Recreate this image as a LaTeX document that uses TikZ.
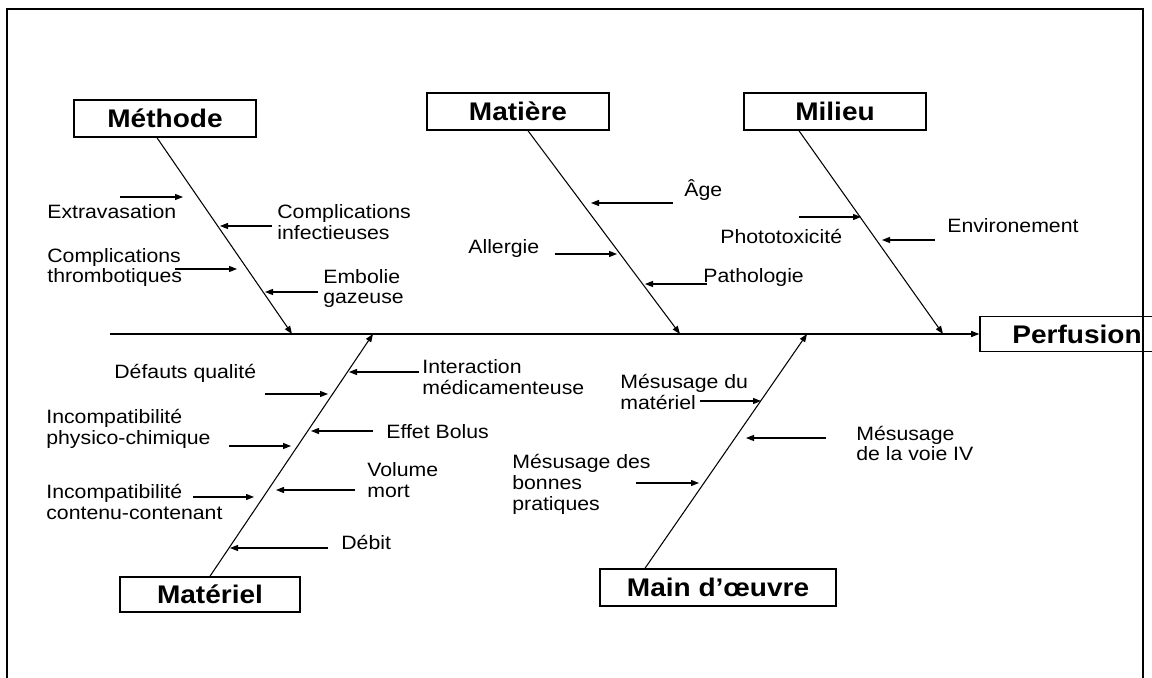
\documentclass[tikz,border=0pt]{standalone}
\usepackage{fontspec}
\setmainfont{Liberation Sans}[FakeStretch=1.1]
\usetikzlibrary{arrows.meta}

\tikzset{
  cause/.style={draw, line width=.9pt, inner sep=0pt, minimum height=7.4mm, font=\fontsize{14.5}{16}\selectfont\bfseries},
  lbl/.style={inner sep=0pt, align=left, anchor=west, font=\fontsize{11}{11.9}\selectfont},
  ar/.style={-{Triangle[length=1.6mm,width=1.2mm]}, line width=.6pt},
}

\begin{document}
\begin{tikzpicture}[x=0.02cm, y=-0.02cm]
\useasboundingbox (0,0) rectangle (1152,678);
\draw[line width=1.2pt] (7,9) rectangle (1143,700);

% main boxes
\node[cause, minimum width=3.64cm] (methode) at (165,118.5) {Méthode};
\node[cause, minimum width=3.64cm] (matiere) at (518,111.5) {Matière};
\node[cause, minimum width=3.64cm] (milieu) at (835,111.5) {Milieu};
\node[cause, minimum width=3.6cm, minimum height=7mm] (materiel) at (210,594.5) {Matériel};
\node[cause, minimum width=4.72cm] (mainoe) at (718,587.5) {Main d’œuvre};
\node[cause, minimum width=3.88cm, minimum height=7mm] (perf) at (1077,334) {Perfusion};

% spine
\coordinate (tail) at (110,334);
\draw[ar] (tail) -- (tail -| perf.west);

% bones
\coordinate (jmet) at (292,334);
\coordinate (jmat) at (680,334);
\coordinate (jmil) at (943,334);
\coordinate (jmatl) at (373,334);
\coordinate (jmo) at (807,334);
\draw[ar] ([xshift=-0.16cm]methode.south) -- (jmet);
\draw[ar] ([xshift=0.2cm]matiere.south) -- (jmat);
\draw[ar] ([xshift=-0.72cm]milieu.south) -- (jmil);
\draw[ar] (materiel.north) -- (jmatl);
\draw[ar] ([xshift=-1.46cm]mainoe.north) -- (jmo);

% labels
\node[lbl] (extra) at (47,212) {Extravasation};
\node[lbl] (infec) at (277,222.5) {Complications\\infectieuses};
\node[lbl] (throm) at (47,267.5) {Complications\\thrombotiques};
\node[lbl] (embol) at (323,288.5) {Embolie\\gazeuse};

\node[lbl] (age) at (684,190) {Âge};
\node[lbl] (aller) at (468,249) {Allergie};
\node[lbl] (patho) at (703,278) {Pathologie};

\node[lbl] (photo) at (720,236) {Phototoxicité};
\node[lbl] (envir) at (947,226) {Environement};

\node[lbl] (inter) at (422,377) {Interaction\\médicamenteuse};
\node[lbl] (defau) at (114,373) {Défauts qualité};
\node[lbl] (incph) at (46,428.5) {Incompatibilité\\physico-chimique};
\node[lbl] (bolus) at (386,432) {Effet Bolus};
\node[lbl] (volum) at (367,480) {Volume\\mort};
\node[lbl] (incco) at (46,502) {Incompatibilité\\contenu-contenant};
\node[lbl] (debit) at (341,542) {Débit};

\node[lbl] (mesma) at (620,392) {Mésusage du\\matériel};
\node[lbl] (mesvo) at (856,443.5) {Mésusage\\de la voie IV};
\node[lbl] (mesbp) at (512,484) {Mésusage des\\bonnes\\pratiques};

% small arrows
\foreach \n/\xa/\xb/\yy in {ext/120/183/197, inf/272/220/226, thr/175/237/269, emb/318/265/292,
    age/673/591/203, all/555/617/254, pat/707/645/284,
    pho/799/861/217, env/935/882/240,
    int/419/349/372, def/265/328/394, iph/229/291/446, bol/373/311/431,
    vol/355/276/490, ico/193/254/497, deb/328/230/548,
    mma/700/761/401, mvo/826/746/438, mbp/636/699/483}{
  \coordinate (\n-s) at (\xa,\yy);
  \coordinate (\n-e) at (\xb,\yy);
  \draw[ar] (\n-s) -- (\n-e);
}
\end{tikzpicture}
\end{document}
